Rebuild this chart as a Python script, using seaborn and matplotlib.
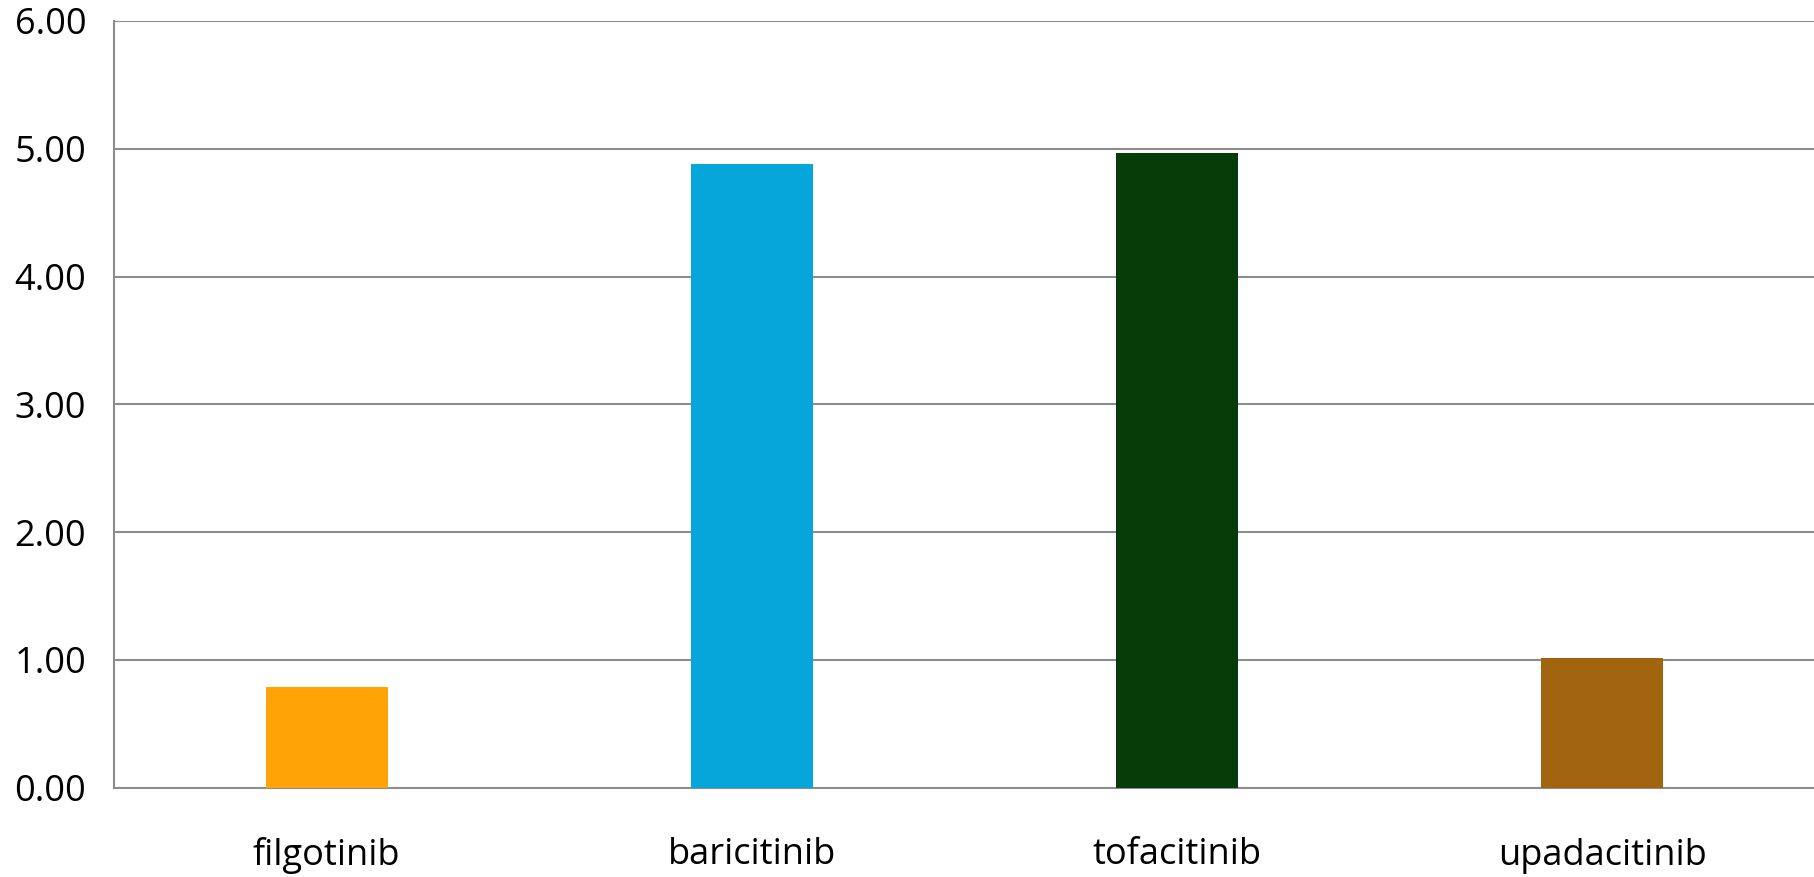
import matplotlib
matplotlib.use("Agg")
import matplotlib.pyplot as plt
import seaborn as sns
import pandas as pd

drugs = ["filgotinib", "baricitinib", "tofacitinib", "upadacitinib"]
values = [0.79, 4.88, 4.97, 1.01]
bar_colors = ["#FFA307", "#06A6DA", "#063C08", "#A0650E"]
y_ticks = [0, 1, 2, 3, 4, 5, 6]

sns.set_style("white")
plt.rcParams["font.family"] = ["Open Sans", "DejaVu Sans"]
plt.rcParams["text.color"] = "black"
plt.rcParams["xtick.color"] = "black"
plt.rcParams["ytick.color"] = "black"

df = pd.DataFrame({"drug": drugs, "value": values})

fig = plt.figure(figsize=(18.15, 8.77), dpi=100)
ax = fig.add_axes([114 / 1815, 1 - 787.5 / 877, (1815 - 114) / 1815, (787.5 - 21) / 877])

sns.barplot(data=df, x="drug", y="value", hue="drug", palette=bar_colors,
            width=0.287, saturation=1, linewidth=0, legend=False, ax=ax, zorder=3)

ax.set_xlim(-0.5, 3.5)
ax.set_ylim(0, 6)
ax.set_yticks(y_ticks)
ax.set_yticklabels([f"{v:.2f}" for v in y_ticks])
ax.grid(axis="y", color="#8c8c8c", linewidth=1.5, zorder=0)
ax.set_axisbelow(True)

for s in ["top", "right"]:
    ax.spines[s].set_visible(False)
ax.spines["left"].set_color("#8c8c8c")
ax.spines["left"].set_linewidth(1.5)
ax.spines["bottom"].set_color("#8c8c8c")
ax.spines["bottom"].set_linewidth(1.5)

ax.tick_params(axis="y", length=12, width=1.5, color="#8c8c8c", labelcolor="black",
               pad=8, labelsize=26)
ax.tick_params(axis="x", length=0, pad=36, labelcolor="black", labelsize=26)
ax.set_xlabel("")
ax.set_ylabel("")

fig.savefig("out.png", dpi=100)
